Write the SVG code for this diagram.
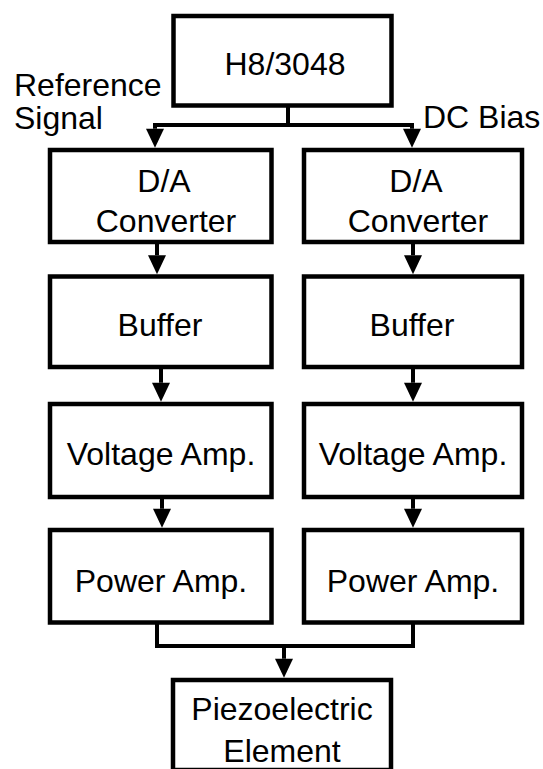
<svg xmlns="http://www.w3.org/2000/svg" width="543" height="769" viewBox="0 0 543 769">
<style>
.box{fill:#fff;stroke:#000;stroke-width:4.5}
.wire{fill:none;stroke:#000;stroke-width:4;stroke-linejoin:miter}
.arr{fill:none;stroke:#000;stroke-width:4;marker-end:url(#ah)}
text{font-family:"Liberation Sans",Arial,sans-serif;font-size:32px;fill:#000}
.c{text-anchor:middle}
</style>
<defs>
<marker id="ah" markerUnits="userSpaceOnUse" markerWidth="19" markerHeight="18" refX="0" refY="9" orient="auto" overflow="visible">
<path d="M0,0 L19,9 L0,18 Z" fill="#000"/>
</marker>
</defs>
<rect width="543" height="769" fill="#fff"/>
<g id="connectors">
<path class="wire" d="M288,105 V125"/>
<path class="arr" d="M288,125 H155 V128.75"/>
<path class="arr" d="M288,125 H412 V128.75"/>
<path class="arr" d="M157,244 V255.25"/>
<path class="arr" d="M413,244 V255.25"/>
<path class="arr" d="M161,369 V382.75"/>
<path class="arr" d="M413,369 V382.75"/>
<path class="arr" d="M162,499 V508.75"/>
<path class="arr" d="M413,499 V508.75"/>
<path class="wire" d="M157,624 V646 H413 V624"/>
<path class="arr" d="M284,646 V658.75"/>
</g>
<g id="h8">
<rect class="box" x="173.5" y="16" width="218" height="89.5"/>
<text class="c" x="285" y="75">H8/3048</text>
</g>
<g id="label-ref">
<text x="14" y="96">Reference</text>
<text x="14" y="129">Signal</text>
</g>
<g id="label-dc">
<text x="423" y="128">DC Bias</text>
</g>
<g id="da-left">
<rect class="box" x="50" y="150" width="221.5" height="92"/>
<text class="c" x="164" y="192">D/A</text>
<text class="c" x="166" y="232">Converter</text>
</g>
<g id="da-right">
<rect class="box" x="304" y="150" width="218" height="92"/>
<text class="c" x="416" y="192">D/A</text>
<text class="c" x="418" y="232">Converter</text>
</g>
<g id="buffer-left">
<rect class="box" x="50" y="276.5" width="221.5" height="90.5"/>
<text class="c" x="160" y="336">Buffer</text>
</g>
<g id="buffer-right">
<rect class="box" x="304" y="276.5" width="218" height="90.5"/>
<text class="c" x="412" y="336">Buffer</text>
</g>
<g id="vamp-left">
<rect class="box" x="50" y="404" width="221.5" height="93"/>
<text class="c" x="161" y="465">Voltage Amp.</text>
</g>
<g id="vamp-right">
<rect class="box" x="304" y="404" width="218" height="93"/>
<text class="c" x="413" y="465">Voltage Amp.</text>
</g>
<g id="pamp-left">
<rect class="box" x="50" y="530" width="221.5" height="92.5"/>
<text class="c" x="161" y="592">Power Amp.</text>
</g>
<g id="pamp-right">
<rect class="box" x="304" y="530" width="218" height="92.5"/>
<text class="c" x="413" y="592">Power Amp.</text>
</g>
<g id="piezo">
<rect class="box" x="173" y="680" width="218" height="90"/>
<text class="c" x="282" y="720">Piezoelectric</text>
<text class="c" x="282" y="762">Element</text>
</g>
</svg>
